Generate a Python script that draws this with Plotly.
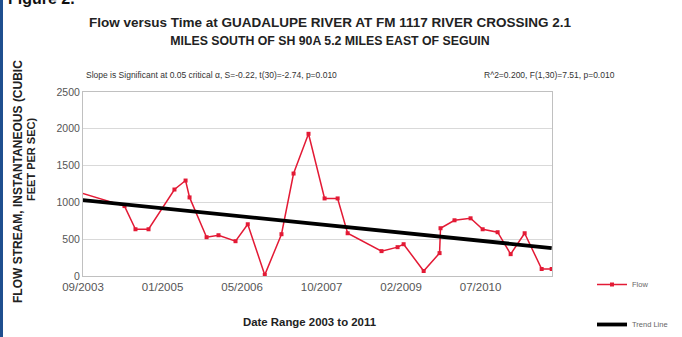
import plotly.graph_objects as go

# ---- data ----
flow_dates = ['2003-07-01', '2004-05-19', '2004-07-27', '2004-10-17', '2005-03-29', '2005-06-07',
              '2005-07-02', '2005-10-17', '2005-12-31', '2006-04-17', '2006-07-03', '2006-10-18',
              '2007-01-31', '2007-04-17', '2007-07-20', '2007-10-29', '2008-01-19', '2008-03-22',
              '2008-10-21', '2009-01-30', '2009-03-09', '2009-07-13', '2009-10-21', '2009-10-27',
              '2010-01-23', '2010-05-04', '2010-07-19', '2010-10-21', '2011-01-11', '2011-04-09',
              '2011-07-25', '2011-09-26']
flow_values = [1160, 950, 635, 635, 1175, 1297,
               1068, 527, 554, 473, 703, 15,
               568, 1392, 1932, 1054, 1054, 581,
               338, 392, 432, 68, 311, 649,
               757, 784, 635, 595, 297, 581,
               95, 95]
trend_dates = ['2003-07-01', '2011-09-26']
trend_values = [1044, 380]

y_ticks = [0, 500, 1000, 1500, 2000, 2500]

FONT = "Liberation Sans"
W, H = 682, 337
ML, MR, MT, MB = 83, 130, 92, 61
PW, PH = W - ML - MR, H - MT - MB


def px(x):
    return (x - ML) / PW


def py(y):
    return (H - MB - y) / PH


fig = go.Figure()
fig.add_trace(go.Scatter(
    x=flow_dates, y=flow_values, mode='lines+markers', name='Flow',
    line=dict(color='#e31a35', width=1.5),
    marker=dict(symbol='square', size=4, color='#e31a35'),
    legendgroup='a', cliponaxis=True))
fig.add_trace(go.Scatter(
    x=trend_dates, y=trend_values, mode='lines', name='Trend Line',
    line=dict(color='black', width=3.8),
    legendgroup='b', cliponaxis=True))

ann = [
    dict(text="Slope is Significant at 0.05 critical \u03b1, S=-0.22, t(30)=-2.74, p=0.010",
         x=px(84), y=py(75), xanchor='left', yanchor='middle',
         font=dict(size=8.5, color='#333333', family=FONT)),
    dict(text="R^2=0.200, F(1,30)=7.51, p=0.010",
         x=px(482), y=py(75), xanchor='left', yanchor='middle',
         font=dict(size=8.5, color='#333333', family=FONT)),
    dict(text="<b>Date Range 2003 to 2011</b>", x=px(310), y=py(322),
         xanchor='center', yanchor='middle',
         font=dict(size=11.4, color='#222222', family=FONT)),
    dict(text="<b>FLOW STREAM, INSTANTANEOUS (CUBIC</b>", x=px(18), y=py(182),
         xanchor='center', yanchor='middle', textangle=-90,
         font=dict(size=12, color='#222222', family=FONT)),
    dict(text="<b>FEET PER SEC)</b>", x=px(31), y=py(160),
         xanchor='center', yanchor='middle', textangle=-90,
         font=dict(size=11, color='#222222', family=FONT)),
    dict(text="<b>Figure 2.</b>", x=px(6), y=py(9), xanchor='left', yanchor='bottom',
         font=dict(size=16, color='#111111', family=FONT)),
]
for a in ann:
    a.update(xref='paper', yref='paper', showarrow=False)

fig.update_layout(
    width=W, height=H,
    margin=dict(l=ML, r=MR, t=MT, b=MB, pad=0, autoexpand=False),
    paper_bgcolor='white', plot_bgcolor='white',
    font=dict(family=FONT, color='#555555'),
    title=dict(
        text="<b>Flow versus Time at GUADALUPE RIVER AT FM 1117 RIVER CROSSING 2.1<br>"
             "<span style='font-size:12.3px'>MILES SOUTH OF SH 90A 5.2 MILES EAST OF SEGUIN</span></b>",
        x=330 / W, xanchor='center', xref='container',
        y=1 - 27 / H, yanchor='middle', yref='container',
        font=dict(size=13.5, color='#222222', family=FONT)),
    xaxis=dict(
        type='date', range=['2003-09-01', '2011-09-28'],
        tick0='2003-09-01', dtick=500 * 86400000, tickformat='%m/%Y',
        showgrid=False, showline=True, linecolor='#c0c0c0', linewidth=1, mirror=True,
        ticks='', tickfont=dict(size=11.5, color='#555555', family=FONT), zeroline=False),
    yaxis=dict(
        range=[0, 2500], tickvals=y_ticks, showgrid=True, gridcolor='#d9d9d9',
        showline=True, linecolor='#c0c0c0', linewidth=1, mirror=True,
        ticks='', tickfont=dict(size=10.5, color='#555555', family=FONT), zeroline=False),
    legend=dict(x=px(592), y=py(270), xanchor='left', yanchor='top',
                font=dict(size=7.5, color='#666666', family=FONT),
                tracegroupgap=21, traceorder='grouped', bgcolor='rgba(0,0,0,0)'),
    annotations=ann,
    shapes=[dict(type='line', xref='paper', yref='paper',
                 x0=px(1.5), x1=px(1.5), y0=py(H), y1=py(0),
                 line=dict(color='#1f4f8f', width=3))],
)

fig.write_html("out.html", config={'displayModeBar': False},
               post_script="document.body.style.margin='0';")
